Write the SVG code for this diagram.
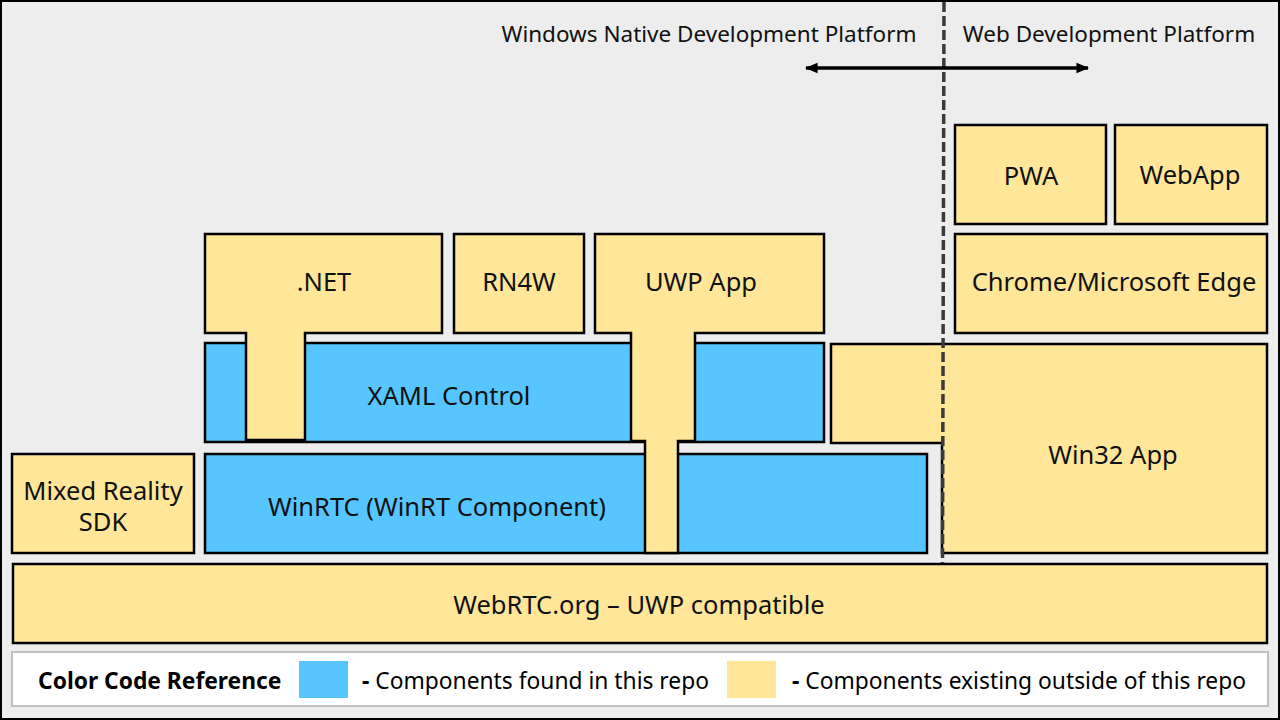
<svg xmlns="http://www.w3.org/2000/svg" width="1280" height="720" viewBox="0 0 1280 720">
<defs>
<marker id="ah" viewBox="0 0 12 10" refX="11" refY="5" markerWidth="3.6" markerHeight="3.2" orient="auto-start-reverse" markerUnits="strokeWidth">
<path d="M0,0 L12,5 L0,10 Z" fill="#000"/>
</marker>
<style>
.y{fill:#FFE699;stroke:#000;stroke-width:2.5}
.b{fill:#57C5FF;stroke:#000;stroke-width:2.5}
.t{font-family:"Segoe UI","Noto Sans","Open Sans",sans-serif;font-size:25.5px;fill:#111;text-anchor:middle}
.h{font-family:"Segoe UI","Noto Sans","Open Sans",sans-serif;font-size:22.5px;fill:#111;text-anchor:middle}
.l{font-family:"Segoe UI","Noto Sans","Open Sans",sans-serif;font-size:22.8px;fill:#000}
</style>
</defs>
<rect x="1" y="1" width="1278" height="718" fill="#EDEDED" stroke="#000" stroke-width="2"/>
<text class="h" x="709" y="42">Windows Native Development Platform</text>
<text class="h" x="1109" y="42">Web Development Platform</text>

<g id="webrtc"><rect class="y" x="13" y="564" width="1254" height="79"/><text class="t" x="639" y="614">WebRTC.org – UWP compatible</text></g>
<g id="mixed-reality"><rect class="y" x="12" y="454" width="182" height="99"/><text class="t" x="103" y="500">Mixed Reality</text><text class="t" x="103" y="531">SDK</text></g>
<g id="winrtc"><rect class="b" x="205" y="454" width="722" height="99"/><text class="t" x="437" y="516">WinRTC (WinRT Component)</text></g>
<g id="xaml"><rect class="b" x="205" y="343" width="619" height="99"/><text class="t" x="449" y="405">XAML Control</text></g>
<g id="dotnet"><path class="y" d="M205,234 H442 V333 H305 V440 H246 V333 H205 Z"/><text class="t" x="324" y="291">.NET</text></g>
<g id="rn4w"><rect class="y" x="454" y="234" width="130" height="99"/><text class="t" x="519" y="291">RN4W</text></g>
<g id="uwp"><path class="y" d="M595,234 H824 V333 H695 V441 H678 V553 H645 V441 H631 V333 H595 Z"/><text class="t" x="701" y="291">UWP App</text></g>
<g id="win32"><path class="y" d="M831,344 H1267 V553 H942 V443 H831 Z"/><text class="t" x="1113" y="464">Win32 App</text></g>
<g id="pwa"><rect class="y" x="955" y="125" width="151" height="99"/><text class="t" x="1031" y="185">PWA</text></g>
<g id="webapp"><rect class="y" x="1115" y="125" width="152" height="99"/><text class="t" x="1190" y="184">WebApp</text></g>
<g id="browser"><rect class="y" x="955" y="234" width="312" height="99"/><text class="t" x="1114" y="291">Chrome/Microsoft Edge</text></g>

<g id="connectors">
<line x1="944" y1="2" x2="942.5" y2="563" stroke="#3A3A3A" stroke-width="3.5" stroke-dasharray="10,4"/>
<line x1="806" y1="68" x2="1088" y2="68" stroke="#000" stroke-width="3.5" marker-start="url(#ah)" marker-end="url(#ah)"/>
</g>

<g id="legend">
<rect x="12" y="652" width="1256" height="54" fill="#FFF" stroke="#C0C0C0" stroke-width="2"/>
<text class="l" x="38" y="689" font-weight="bold">Color Code Reference</text>
<rect x="299" y="661" width="49" height="37" fill="#57C5FF"/>
<text class="l" x="362" y="689"><tspan font-weight="bold">-</tspan> Components found in this repo</text>
<rect x="727" y="661" width="49" height="37" fill="#FFE699"/>
<text class="l" x="792" y="689"><tspan font-weight="bold">-</tspan> Components existing outside of this repo</text>
</g>
</svg>
